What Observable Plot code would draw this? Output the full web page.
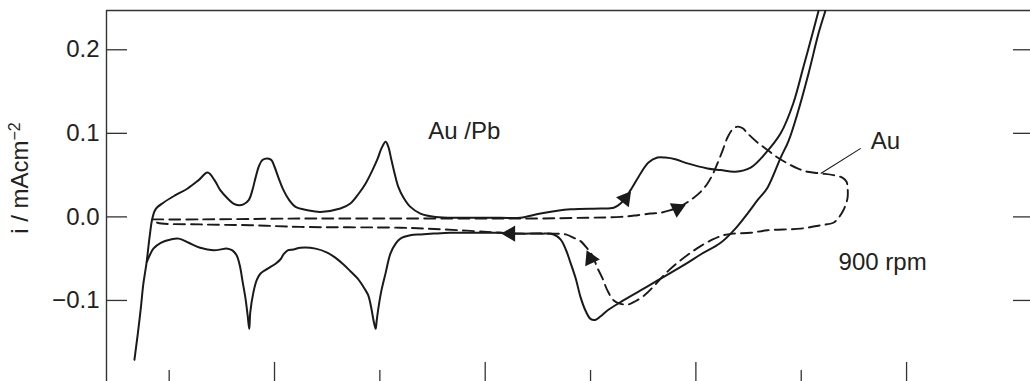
<!DOCTYPE html>
<html><head><meta charset="utf-8">
<script src="https://cdn.jsdelivr.net/npm/d3@7"></script>
<script src="https://cdn.jsdelivr.net/npm/@observablehq/plot@0.6"></script>
<style>html,body{margin:0;padding:0;background:#fff;} #chart svg{display:block;}</style>
</head><body><div id="chart"></div>
<script>
// Au/Pb voltammogram (solid): potential E (V) and current i (mA cm^-2), in sweep order
const auPbE = [-0.266,-0.260,-0.254,-0.249,-0.243,-0.237,-0.232,-0.226,-0.211,-0.188,-0.165,-0.144,-0.127,-0.114,-0.103,-0.089,-0.078,-0.068,-0.059,-0.049,-0.042,-0.036,-0.030,-0.023,-0.013,-0.006,0.000,0.008,0.017,0.027,0.040,0.063,0.087,0.125,0.144,0.160,0.173,0.186,0.196,0.203,0.211,0.216,0.222,0.228,0.235,0.245,0.258,0.277,0.306,0.353,0.429,0.467,0.505,0.562,0.619,0.644,0.657,0.676,0.695,0.710,0.727,0.742,0.761,0.784,0.822,0.847,0.875,0.904,0.932,0.961,0.985,1.004,1.023,1.033,1.040,1.054,1.046,1.033,1.014,0.993,0.976,0.961,0.936,0.917,0.898,0.875,0.847,0.809,0.784,0.733,0.695,0.657,0.632,0.619,0.610,0.600,0.591,0.581,0.572,0.562,0.553,0.543,0.530,0.505,0.467,0.429,0.372,0.334,0.302,0.277,0.258,0.239,0.230,0.220,0.211,0.203,0.198,0.194,0.192,0.188,0.184,0.178,0.171,0.158,0.144,0.131,0.116,0.101,0.078,0.049,0.036,0.025,0.017,0.011,0.002,-0.013,-0.027,-0.034,-0.040,-0.046,-0.048,-0.051,-0.055,-0.061,-0.066,-0.072,-0.080,-0.089,-0.116,-0.141,-0.163,-0.182,-0.197,-0.216,-0.230,-0.237,-0.243];
const auPbI = [-0.171,-0.142,-0.110,-0.080,-0.055,-0.023,-0.002,0.009,0.017,0.026,0.034,0.044,0.053,0.044,0.032,0.022,0.016,0.014,0.015,0.020,0.032,0.047,0.060,0.068,0.070,0.068,0.060,0.046,0.032,0.021,0.012,0.008,0.006,0.010,0.016,0.028,0.040,0.056,0.070,0.082,0.090,0.084,0.068,0.052,0.036,0.023,0.012,0.004,0.000,-0.001,-0.001,-0.001,0.004,0.009,0.010,0.011,0.016,0.032,0.052,0.065,0.071,0.071,0.069,0.064,0.058,0.056,0.054,0.059,0.076,0.100,0.136,0.179,0.223,0.247,0.265,0.265,0.247,0.220,0.172,0.124,0.091,0.071,0.035,0.020,0.004,-0.014,-0.031,-0.045,-0.055,-0.074,-0.088,-0.102,-0.112,-0.119,-0.123,-0.122,-0.113,-0.096,-0.074,-0.055,-0.039,-0.027,-0.021,-0.020,-0.020,-0.019,-0.019,-0.019,-0.020,-0.021,-0.022,-0.026,-0.032,-0.044,-0.067,-0.088,-0.106,-0.124,-0.134,-0.124,-0.110,-0.094,-0.086,-0.074,-0.065,-0.057,-0.049,-0.043,-0.038,-0.037,-0.039,-0.040,-0.045,-0.051,-0.056,-0.062,-0.068,-0.076,-0.090,-0.114,-0.134,-0.118,-0.098,-0.076,-0.058,-0.046,-0.040,-0.038,-0.040,-0.037,-0.031,-0.026,-0.027,-0.031,-0.038,-0.046,-0.055];

// Au voltammogram (dashed)
const auE = [-0.232,-0.140,0.049,0.239,0.429,0.486,0.594,0.657,0.689,0.714,0.733,0.752,0.765,0.780,0.796,0.809,0.822,0.832,0.841,0.851,0.860,0.870,0.879,0.889,0.898,0.917,0.936,0.955,0.974,0.993,1.012,1.037,1.061,1.078,1.086,1.088,1.088,1.084,1.080,1.071,1.061,1.037,0.999,0.936,0.904,0.871,0.852,0.832,0.809,0.790,0.765,0.742,0.723,0.704,0.685,0.670,0.657,0.644,0.632,0.623,0.613,0.604,0.594,0.581,0.568,0.553,0.530,0.486,0.448,0.429,0.321,0.239,0.049,-0.046,-0.140,-0.222,-0.230];
const auI = [-0.003,-0.003,-0.002,-0.002,-0.002,-0.002,-0.001,0.000,0.002,0.004,0.005,0.008,0.011,0.016,0.023,0.030,0.040,0.051,0.064,0.080,0.095,0.105,0.108,0.106,0.100,0.089,0.080,0.071,0.064,0.058,0.054,0.052,0.050,0.047,0.042,0.035,0.023,0.014,0.008,-0.001,-0.007,-0.010,-0.014,-0.016,-0.019,-0.020,-0.022,-0.027,-0.035,-0.043,-0.055,-0.068,-0.081,-0.093,-0.101,-0.105,-0.104,-0.100,-0.088,-0.074,-0.061,-0.047,-0.038,-0.029,-0.025,-0.021,-0.020,-0.020,-0.020,-0.019,-0.015,-0.013,-0.012,-0.010,-0.009,-0.007,-0.004];

// sweep-direction arrowheads
const arrowE = [0.666, 0.765, 0.448, 0.600];
const arrowI = [0.022, 0.010, -0.020, -0.050];
const arrowAngle = [38, 65, -90, -25];

// axis ticks
const yTicks = [-0.1, 0.0, 0.1, 0.2];
const xMajorTicks = [0.0, 0.4, 0.8, 1.2];
const xMinorTicks = [-0.2, 0.2, 0.6, 1.0];

// annotations
const noteText = ["Au /Pb", "Au", "900 rpm"];
const noteE = [0.292, 1.132, 1.071];
const noteI = [0.102, 0.091, -0.054];
const leader = [{x1: 1.113, y1: 0.082, x2: 1.037, y2: 0.052}];

const xDomain = [-0.319, 1.4353];
const yDomain = [-0.197, 0.247];

const solid = auPbE.map((e, k) => ({E: e, i: auPbI[k]}));
const dashed = auE.map((e, k) => ({E: e, i: auI[k]}));
const arrows = arrowE.map((e, k) => ({E: e, i: arrowI[k], a: arrowAngle[k]}));
const notes = noteText.map((t, k) => ({t, E: noteE[k], i: noteI[k]}));

const ink = "#1a1a1a";
const W = 1030, H = 381, mL = 106, mT = 10;
const innerW = W - mL, innerH = H - mT;

const chart = Plot.plot({
  width: W, height: H,
  marginLeft: mL, marginRight: 0, marginTop: mT, marginBottom: 0,
  style: {fontFamily: "'Liberation Sans', Arial, Helvetica, sans-serif", fontSize: "24px", color: "#222", background: "#fff"},
  x: {domain: xDomain, axis: null},
  y: {domain: yDomain, ticks: yTicks, tickSize: 0, tickPadding: 7, tickFormat: d3.format(".1f"), label: null},
  marks: [
    Plot.ruleX([xDomain[0]], {stroke: "#333", strokeWidth: 1.4}),
    Plot.ruleY([yDomain[1]], {stroke: "#333", strokeWidth: 1.4}),
    Plot.ruleY(yTicks, {stroke: "#333", strokeWidth: 1.3, insetRight: innerW - 21}),
    Plot.ruleY(yTicks, {stroke: "#333", strokeWidth: 1.3, insetLeft: innerW - 17}),
    Plot.ruleX(xMajorTicks, {stroke: "#333", strokeWidth: 1.3, insetTop: innerH - 19}),
    Plot.ruleX(xMinorTicks, {stroke: "#333", strokeWidth: 1.3, insetTop: innerH - 11}),
    Plot.line(dashed, {x: "E", y: "i", stroke: ink, strokeWidth: 1.9, strokeDasharray: "11,6", curve: "catmull-rom", clip: true}),
    Plot.line(solid, {x: "E", y: "i", stroke: ink, strokeWidth: 2, curve: "catmull-rom", clip: true}),
    Plot.dot(arrows, {x: "E", y: "i", rotate: "a", symbol: "triangle", r: 6, fill: ink, stroke: null}),
    Plot.link(leader, {x1: "x1", y1: "y1", x2: "x2", y2: "y2", stroke: ink, strokeWidth: 1.1}),
    Plot.text(notes, {x: "E", y: "i", text: "t", textAnchor: "start", fontSize: 24, fill: "#222"})
  ]
});
document.getElementById("chart").appendChild(chart);

// y-axis title with superscript
const svg = d3.select(chart);
const lab = svg.append("text")
  .attr("transform", "translate(28,178) rotate(-90)")
  .attr("text-anchor", "middle")
  .attr("fill", "#222")
  .style("font-size", "24px")
  .style("font-family", "'Liberation Sans', Arial, sans-serif");
lab.append("tspan").text("i / mAcm");
lab.append("tspan").attr("dy", "-0.5em").style("font-size", "16px").text("−2");
</script>
</body></html>
